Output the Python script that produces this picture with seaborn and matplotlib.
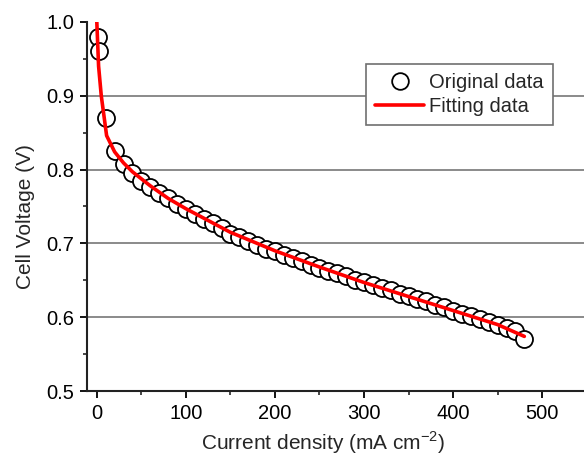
import matplotlib
matplotlib.use("Agg")
import matplotlib.pyplot as plt
import seaborn as sns
import pandas as pd
from matplotlib.ticker import MultipleLocator
from matplotlib.lines import Line2D

# Original measured data
orig_current = [1, 2, 10, 20, 30, 40, 50, 60, 70, 80, 90, 100, 110, 120, 130, 140, 150,
                160, 170, 180, 190, 200, 210, 220, 230, 240, 250, 260, 270, 280, 290, 300,
                310, 320, 330, 340, 350, 360, 370, 380, 390, 400, 410, 420, 430, 440, 450,
                460, 470, 480]
orig_voltage = [0.980, 0.960, 0.870, 0.825, 0.808, 0.796, 0.785, 0.776, 0.768, 0.762, 0.753,
                0.746, 0.740, 0.733, 0.727, 0.721, 0.713, 0.708, 0.703, 0.698, 0.693, 0.689,
                0.684, 0.680, 0.676, 0.671, 0.667, 0.663, 0.660, 0.656, 0.651, 0.648, 0.644,
                0.640, 0.637, 0.632, 0.629, 0.625, 0.622, 0.617, 0.614, 0.609, 0.605, 0.601,
                0.597, 0.594, 0.590, 0.586, 0.581, 0.571]

# Fitting curve
fit_current = [0, 2, 5, 11, 20, 30, 40, 60, 80, 100, 150, 200, 250, 300, 350, 400, 450, 480]
fit_voltage = [1.000, 0.940, 0.900, 0.846, 0.824, 0.809, 0.797, 0.778, 0.761, 0.747, 0.715,
               0.690, 0.668, 0.647, 0.628, 0.609, 0.590, 0.574]

x_ticks = [0, 100, 200, 300, 400, 500]
y_ticks = [0.5, 0.6, 0.7, 0.8, 0.9, 1.0]
grid_levels = [0.6, 0.7, 0.8, 0.9]

sns.set_style("ticks")
plt.rcParams['font.family'] = ['Liberation Sans', 'DejaVu Sans']
plt.rcParams['mathtext.fontset'] = 'custom'
plt.rcParams['mathtext.rm'] = 'Liberation Sans'

df_orig = pd.DataFrame({"x": orig_current, "y": orig_voltage})
df_fit = pd.DataFrame({"x": fit_current, "y": fit_voltage})

fig = plt.figure(figsize=(5.84, 4.57), dpi=100)
ax = fig.add_axes([0.149, 0.1444, 0.851, 0.8076])

for g in grid_levels:
    ax.axhline(g, color="#8a8a8a", lw=1.4, zorder=0)

sns.scatterplot(data=df_orig, x="x", y="y", ax=ax, marker="o", s=150,
                facecolor="white", edgecolor="black", linewidth=1.3, zorder=2, legend=False)
sns.lineplot(data=df_fit, x="x", y="y", ax=ax, color="#ff0000", lw=2.6, zorder=3,
             estimator=None, sort=False, legend=False)

ax.set_xlim(-11, 547)
ax.set_ylim(0.5, 1.0)
ax.set_xticks(x_ticks)
ax.set_yticks(y_ticks)
ax.set_yticklabels([f"{v:.1f}" for v in y_ticks])
ax.xaxis.set_minor_locator(MultipleLocator(50))
ax.yaxis.set_minor_locator(MultipleLocator(0.05))
ax.tick_params(which="major", direction="out", length=5, width=1.3, labelsize=14.5,
               colors="black", pad=4)
ax.tick_params(which="minor", direction="out", length=3, width=1.2)
for s in ["top", "right"]:
    ax.spines[s].set_visible(False)
for s in ["left", "bottom"]:
    ax.spines[s].set_linewidth(1.5)
    ax.spines[s].set_color("#222222")

ax.set_xlabel("Current density (mA cm$^{\\mathrm{-2}}$)", fontsize=15, labelpad=5)
ax.set_ylabel("Cell Voltage (V)", fontsize=15, labelpad=8)
ax.xaxis.label.set_x(0.475)
ax.yaxis.label.set_y(0.474)

handles = [
    Line2D([], [], marker="o", ls="none", markersize=12, markerfacecolor="white",
           markeredgecolor="black", markeredgewidth=1.3),
    Line2D([], [], color="#ff0000", lw=2.6),
]
leg = ax.legend(handles, ["Original data", "Fitting data"], loc="upper right",
                bbox_to_anchor=(0.938, 0.886), borderaxespad=0, fontsize=14.5,
                frameon=True, fancybox=False, handlelength=2.45, handletextpad=0.25,
                labelspacing=0.25, borderpad=0.45)
leg.get_frame().set_edgecolor("#707070")
leg.get_frame().set_linewidth(1.2)
leg.get_frame().set_alpha(1)

fig.savefig("out.png", dpi=100)
